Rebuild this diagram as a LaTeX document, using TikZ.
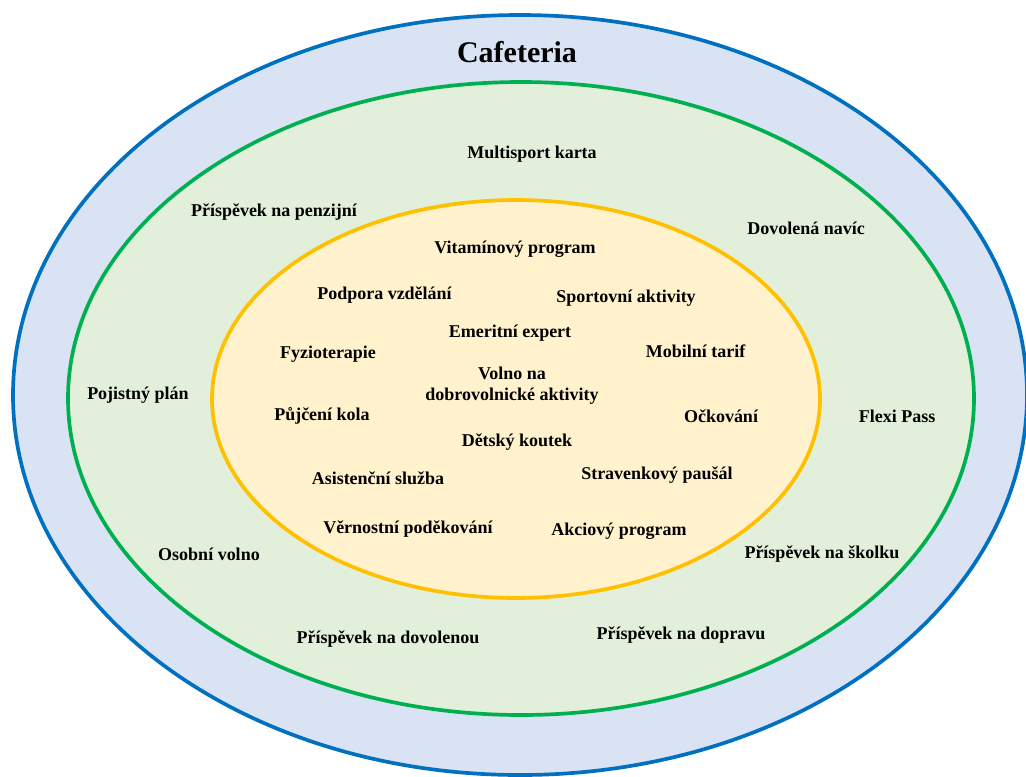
\documentclass[tikz,border=0pt]{standalone}
\usepackage{fontspec}
\setmainfont{Liberation Serif}
\definecolor{outerfill}{HTML}{DAE3F3}
\definecolor{outerline}{HTML}{0070C0}
\definecolor{midfill}{HTML}{E2EFDA}
\definecolor{midline}{HTML}{00B050}
\definecolor{innerfill}{HTML}{FFF2CC}
\definecolor{innerline}{HTML}{FFC000}
\begin{document}
\begin{tikzpicture}[item/.style={font=\bfseries\fontsize{10.24}{11.95}\selectfont,inner sep=0pt,align=center,yshift=-0.04cm},
ring/.style={line width=2.1pt}]
\useasboundingbox[fill=white] (0,0) rectangle (20.52,-15.52);

\draw[ring,color=outerline,fill=outerfill] (10.40,-7.90) ellipse (10.14cm and 7.60cm);
\draw[ring,color=midline,fill=midfill] (10.42,-7.97) ellipse (9.06cm and 6.33cm);
\draw[ring,color=innerline,fill=innerfill] (10.32,-7.98) ellipse (6.08cm and 3.98cm);

\node[item,font=\bfseries\fontsize{17.07}{20}\selectfont] (cafeteria) at (10.34,-1.00) {Cafeteria};

% vnejsi pas
\node[item] (multisport) at (10.64,-3.04) {Multisport karta};
\node[item] (penzijni) at (5.48,-4.20) {Příspěvek na penzijní};
\node[item] (dovolena) at (16.12,-4.52) {Dovolená navíc};
\node[item] (pojistny) at (2.76,-7.86) {Pojistný plán};
\node[item] (flexi) at (17.94,-8.28) {Flexi Pass};
\node[item] (osobni) at (4.18,-11.04) {Osobní volno};
\node[item] (skolka) at (16.44,-11.04) {Příspěvek na školku};
\node[item] (nadovolenou) at (7.76,-12.74) {Příspěvek na dovolenou};
\node[item] (doprava) at (13.62,-12.66) {Příspěvek na dopravu};

% vnitrni elipsa
\node[item] (vitamin) at (10.30,-4.94) {Vitamínový program};
\node[item] (podpora) at (7.69,-5.86) {Podpora vzdělání};
\node[item] (sport) at (12.52,-5.92) {Sportovní aktivity};
\node[item] (emeritni) at (10.20,-6.62) {Emeritní expert};
\node[item] (fyzio) at (6.56,-7.04) {Fyzioterapie};
\node[item] (mobil) at (13.91,-6.98) {Mobilní tarif};
\node[item] (volno) at (10.24,-7.67) {Volno na\\dobrovolnické aktivity};
\node[item] (kolo) at (6.44,-8.28) {Půjčení kola};
\node[item] (ockovani) at (14.42,-8.28) {Očkování};
\node[item] (koutek) at (10.34,-8.80) {Dětský koutek};
\node[item] (asistence) at (7.56,-9.52) {Asistenční služba};
\node[item] (stravenky) at (13.14,-9.46) {Stravenkový paušál};
\node[item] (vernost) at (8.16,-10.54) {Věrnostní poděkování};
\node[item] (akcie) at (12.38,-10.58) {Akciový program};
\end{tikzpicture}
\end{document}
